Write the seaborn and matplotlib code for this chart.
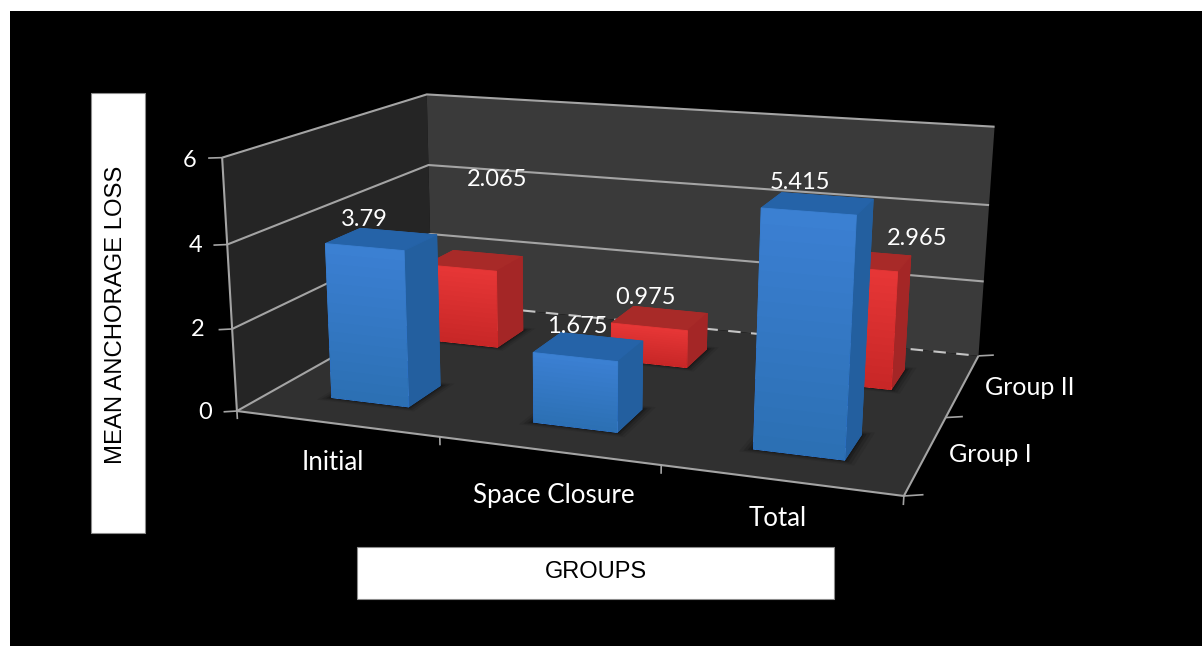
import numpy as np
import pandas as pd
import seaborn as sns
import matplotlib
matplotlib.use("Agg")
import matplotlib.pyplot as plt
from matplotlib.patches import Rectangle
from mpl_toolkits.mplot3d import Axes3D  # noqa: F401
from mpl_toolkits.mplot3d.art3d import Poly3DCollection, Line3DCollection

# Chart values
categories = ["Initial", "Space Closure", "Total"]
series_names = ["Group I", "Group II"]
group_one = [3.79, 1.675, 5.415]
group_two = [2.065, 0.975, 2.965]
z_ticks = [0, 2, 4, 6]

W, H = 1202, 646
sns.set_theme(style="white", rc={"figure.dpi": 100, "savefig.dpi": 100})
plt.rcParams["font.family"] = ["Lato", "DejaVu Sans"]

data = pd.DataFrame({"category": categories, "Group I": group_one, "Group II": group_two})

# Camera: scene corners (category, depth, value) against their place on the canvas
scene = np.array([[0, 0, 0], [0, 0, 6], [0, 2, 6], [0, 2, 0], [3, 2, 0], [3, 2, 6], [3, 0, 0],
                  [1, 0, 0], [0, 0, 2], [0, 0, 4], [0, 2, 2], [0, 2, 4], [3, 2, 2], [3, 2, 4]], float)
canvas = np.array([[237, 410], [222, 158], [427, 94], [432, 302], [978, 355], [995, 127], [904, 495],
                   [439, 440], [233, 328], [227, 244], [430, 233], [428, 166], [985, 282], [988, 205]], float)


def fit_camera(X, u):
    rows = []
    for (a, b, c), (p, q) in zip(X, u / 1000):
        rows.append([a, b, c, 1, 0, 0, 0, 0, -p * a, -p * b, -p * c, -p])
        rows.append([0, 0, 0, 0, a, b, c, 1, -q * a, -q * b, -q * c, -q])
    P = np.linalg.svd(np.array(rows))[2][-1].reshape(3, 4)
    P[:2] *= 1000
    if P[2] @ np.array([1.5, 1, 3, 1]) < 0:
        P = -P
    return P


P = fit_camera(scene, canvas)
w_mid = P[2] @ np.array([1.5, 1, 3, 1])
M = np.vstack([P[0], P[1], P[2] - np.array([0, 0, 0, 0.5 * w_mid]), P[2]])

fig = plt.figure(figsize=(W / 100, H / 100), facecolor="white")
fx = lambda v: v / W
fy = lambda v: 1 - v / H

fig.add_artist(Rectangle((fx(10), 0), 1 - fx(10), fy(11), transform=fig.transFigure,
                         facecolor="black", edgecolor="none", zorder=-2))

ax = fig.add_axes([0, 0, 1, 1], projection="3d", computed_zorder=False)
ax.set_axis_off()
ax.patch.set_visible(False)
ax.get_proj = lambda: M
ax.apply_aspect = lambda position=None: None
ax.viewLim.intervalx = (0, W)
ax.viewLim.intervaly = (H, 0)

n_cat = len(categories)
y_max = 2
z_max = max(z_ticks)


def add_lines(segments, color, lw, order, **kw):
    ax.add_collection3d(Line3DCollection(segments, colors=color, linewidths=lw, zorder=order, **kw))


# Walls and floor
walls = [
    ([[0, 0, 0], [0, y_max, 0], [0, y_max, z_max], [0, 0, z_max]], "#252525"),
    ([[0, y_max, 0], [n_cat, y_max, 0], [n_cat, y_max, z_max], [0, y_max, z_max]], "#3a3a3a"),
    ([[0, 0, 0], [n_cat, 0, 0], [n_cat, y_max, 0], [0, y_max, 0]], "#303030"),
]
for verts, colour in walls:
    ax.add_collection3d(Poly3DCollection([verts], facecolor=colour, edgecolor="none", zorder=1))

# Gridlines wrap the side wall and the back wall
grid_colour = "#a4a4a4"
for z in z_ticks[1:]:
    add_lines([[[0, 0, z], [0, y_max, z], [n_cat, y_max, z]]], grid_colour, 1.5, 2)
add_lines([[[0, 0, 0], [0, y_max, 0]]], grid_colour, 1.5, 2)
add_lines([[[0, y_max, 0], [n_cat, y_max, 0]]], "#c4c4c4", 1.5, 2, linestyles=[(0, (6, 5))])
add_lines([[[0, 0, 0], [0, 0, z_max]]], grid_colour, 1.5, 2)
add_lines([[[0, 0, 0], [n_cat, 0, 0], [n_cat, y_max, 0]]], grid_colour, 1.5, 2)

# Tick marks: level ones on the value and depth axes, upright ones on the category axis
for z in z_ticks:
    add_lines([[[-0.05, -0.03, z], [0, 0, z]]], grid_colour, 1.2, 2)
for c in range(n_cat + 1):
    add_lines([[[c, 0, -0.2], [c, 0, 0]]], grid_colour, 1.2, 2)
for d in range(y_max + 1):
    add_lines([[[n_cat, d, 0], [n_cat + 0.07, d + 0.04, 0]]], grid_colour, 1.2, 2)

# Bars, each with its shadow on the floor and a slight darkening towards its foot
bar_width = 0.39
bar_depth = 0.33
blue_faces = ["#2563a8", "#2563a8", "#3b80d2", "#2563a8", "#2563a8", "#235f9f"]
red_faces = ["#a82a28", "#a82a28", "#e63636", "#a82a28", "#a82a28", "#a42626"]


def draw_bars(values, depth_pos, faces, order):
    for i, v in enumerate(values):
        x0 = i + 0.5 - bar_width / 2
        y0 = depth_pos - bar_depth / 2
        x1, y1 = x0 + bar_width, y0 + bar_depth
        for grow, alpha in ((0.05, 0.08), (0.035, 0.12), (0.02, 0.18), (0.01, 0.2)):
            shadow = [[x0 - grow, y0 - grow, 0], [x1 + grow, y0 - grow, 0],
                      [x1 + grow, y1 + grow, 0], [x0 - grow, y1 + grow, 0]]
            ax.add_collection3d(Poly3DCollection([shadow], facecolor=(0, 0, 0, alpha), edgecolor="none", zorder=3))
        ax.bar3d(x0, y0, 0, bar_width, bar_depth, v, color=faces, edgecolor=faces, linewidth=0.6,
                 shade=False, zorder=order)
        for frac in np.arange(1, 16) / 16:
            strip = [[x0, y0, 0], [x1, y0, 0], [x1, y0, v * frac], [x0, y0, v * frac]]
            ax.add_collection3d(Poly3DCollection([strip], facecolor=(0, 0, 0, 0.009), edgecolor="none",
                                                 zorder=order + 0.5))


draw_bars(data["Group II"], 1.48, red_faces, 4)
draw_bars(data["Group I"], 0.48, blue_faces, 5)

# Value labels
label_spots = {"Group I": [(364, 218), (577, 325), (800, 181)],
               "Group II": [(497, 178), (646, 296), (917, 237)]}


def put(lx, ly, s, size):
    fig.text(fx(lx), fy(ly + 1.5), s, color="white", fontsize=size, ha="center", va="center")


for name in series_names:
    for v, (lx, ly) in zip(data[name], label_spots[name]):
        put(lx, ly, f"{v:g}", 17)

# Axis tick labels
for z, (lx, ly) in zip(z_ticks, [(205, 411), (198, 328), (196, 244), (190, 159)]):
    put(lx, ly, str(z), 17)
for c, (lx, ly) in zip(categories, [(333, 461), (554, 494), (778, 517)]):
    put(lx, ly, c, 18.6)
for s, (lx, ly) in zip(series_names, [(990, 453), (1030, 386)]):
    put(lx, ly, s, 18)

# Axis titles on white plates
plate_kw = dict(transform=fig.transFigure, facecolor="white", edgecolor="#8c8c8c", linewidth=0.8, zorder=-1)
fig.add_artist(Rectangle((fx(91), fy(533)), 54 / W, 440 / H, **plate_kw))
fig.add_artist(Rectangle((fx(357), fy(599)), 477 / W, 52 / H, **plate_kw))
fig.text(fx(116), fy(315), "MEAN ANCHORAGE LOSS", color="black", fontsize=17.2, rotation=90,
         ha="center", va="center", family="Liberation Sans")
fig.text(fx(595.5), fy(572.5), "GROUPS", color="black", fontsize=17,
         ha="center", va="center", family="Liberation Sans")

fig.savefig("out.png", dpi=100, facecolor="white")
